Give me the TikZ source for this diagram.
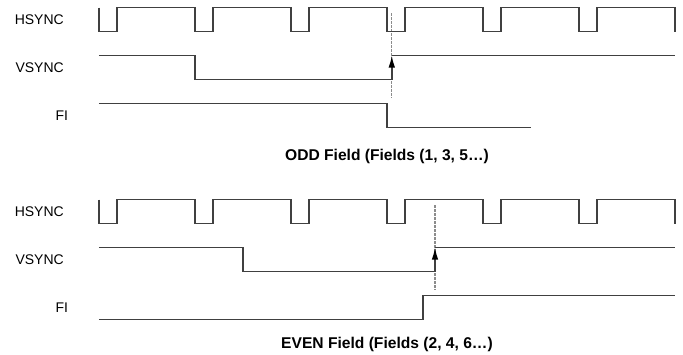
\documentclass[tikz,border=0pt]{standalone}
\usepackage{fontspec}
\setmainfont{Liberation Sans}
\usetikzlibrary{arrows.meta}

\definecolor{wavegray}{HTML}{404040}
\definecolor{markgray}{HTML}{8C8C8C}

\begin{document}
\begin{tikzpicture}[x=96pt, y=24pt,
    font=\fontsize{14}{16}\selectfont,
    wave/.style={draw=wavegray, line width=1.5pt},
    marker/.style={draw=markgray, line width=1.3pt, dash pattern=on 2.5pt off 1.5pt},
    edge tip/.style={wave, -{Latex[length=12pt,width=6.5pt,black]}},
    sig/.style={anchor=east, inner sep=0pt},
    caption/.style={anchor=base, inner sep=0pt, font=\fontsize{15.6}{18}\selectfont\bfseries}]
  \useasboundingbox (-99pt,7.5pt) rectangle (584pt,-346.5pt);

  % ODD field
  \node[sig] (hsodd) at (-0.365,-0.5) {HSYNC};
  \node[sig] (vsodd) at (-0.365,-2.5) {VSYNC};
  \node[sig] (fiodd) at (-0.32,-4.5) {FI};
  \coordinate (mkodda) at (3.05,-0.23);
  \coordinate (mkoddb) at (3.05,-3.77);
  \draw[marker] (mkodda) -- (mkoddb);
  \draw[wave] (0,0) \foreach \i in {0,...,5} { -- (\i,-1) -- (\i+0.19,-1) -- (\i+0.19,0) -- (\i+1,0) } -- (6,-1);
  \draw[wave] (0,-2) -- (1,-2) -- (1,-3) -- (3.05,-3);
  \draw[edge tip] (3.05,-3) -- (3.05,-2);
  \draw[wave] (3.05,-2) -- (6,-2);
  \draw[wave] (0,-4) -- (3,-4) -- (3,-5) -- (4.5,-5);
  \node[caption] (odd) at (3,-6.375) {ODD Field (Fields (1, 3, 5…)};

  % EVEN field
  \begin{scope}[yshift=-192pt]
    \node[sig] (hseven) at (-0.365,-0.5) {HSYNC};
    \node[sig] (vseven) at (-0.365,-2.5) {VSYNC};
    \node[sig] (fieven) at (-0.32,-4.5) {FI};
    \coordinate (mkevena) at (3.5,-0.23);
    \coordinate (mkevenb) at (3.5,-3.77);
    \draw[marker] (mkevena) -- (mkevenb);
    \draw[wave] (0,0) \foreach \i in {0,...,5} { -- (\i,-1) -- (\i+0.19,-1) -- (\i+0.19,0) -- (\i+1,0) } -- (6,-1);
    \draw[wave] (0,-2) -- (1.5,-2) -- (1.5,-3) -- (3.5,-3);
    \draw[edge tip] (3.5,-3) -- (3.5,-2);
    \draw[wave] (3.5,-2) -- (6,-2);
    \draw[wave] (0,-5) -- (3.375,-5) -- (3.375,-4) -- (6,-4);
    \node[caption] (even) at (3,-6.21) {EVEN Field (Fields (2, 4, 6…)};
  \end{scope}
\end{tikzpicture}
\end{document}
